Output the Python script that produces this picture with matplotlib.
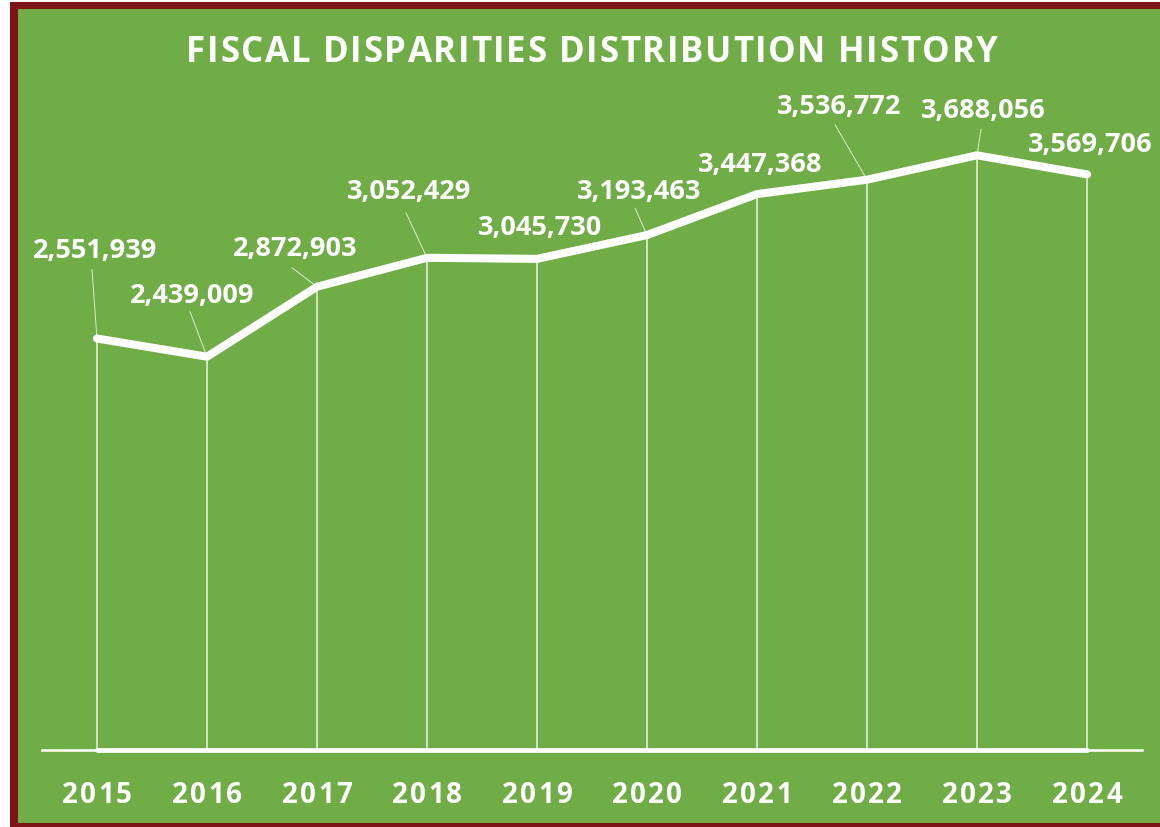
import matplotlib
matplotlib.use("Agg")
import matplotlib.pyplot as plt
from matplotlib.patches import Rectangle
from matplotlib.transforms import IdentityTransform
from matplotlib.font_manager import FontProperties, findfont
from matplotlib.ft2font import FT2Font

# ---- data -------------------------------------------------------------
years = ["2015", "2016", "2017", "2018", "2019",
         "2020", "2021", "2022", "2023", "2024"]
distribution = [2551939, 2439009, 2872903, 3052429, 3045730,
                3193463, 3447368, 3536772, 3688056, 3569706]
title = "FISCAL DISPARITIES DISTRIBUTION HISTORY"

# ---- layout -------------------------------------------------------------
# label baseline offsets from each point, in pixels (dx, dy)
label_offsets = [(-2, 81), (-15, 55), (-22, 32), (-18, 60), (3, 25),
                 (-8, 37), (3, 23), (-28, 67), (6, 38), (3, 23)]
# leader line start offsets from each point, in pixels (None = no leader)
leader_offsets = [(-5, 69), (-17, 45), (-25, 19), (-21, 45), None,
                  (-12, 27), None, (-32, 55), (4, 26), None]

GREEN = "#70AD47"
MAROON = "#7D1418"
WHITE = "white"

W, H, DPI = 1160, 828, 100
fig = plt.figure(figsize=(W / DPI, H / DPI), dpi=DPI, facecolor="white")

# frame: maroon border with green panel (drawn beneath the axes)
fig.patches.append(Rectangle((10 / W, 0), 1, (H - 3) / H,
                             transform=fig.transFigure, facecolor=MAROON,
                             edgecolor="none", zorder=-5))
fig.patches.append(Rectangle((18 / W, 4 / H), 1, (H - 14) / H,
                             transform=fig.transFigure, facecolor=GREEN,
                             edgecolor="none", zorder=-4))

ax = fig.add_axes([42 / W, 77 / H, 1100 / W, 645 / H])
ax.set_facecolor("none")
for s in ax.spines.values():
    s.set_visible(False)
ax.set_xlim(-0.5, len(years) - 0.5)
ax.set_ylim(0, 4_000_000)
ax.set_xticks([])
ax.set_yticks([])

x = list(range(len(years)))

# category axis line and the heavy base line between first and last year
ax.axhline(0, color=WHITE, lw=1.8, zorder=2, clip_on=False)
ax.plot([x[0], x[-1]], [0, 0], color=WHITE, lw=3.4,
        solid_capstyle="round", zorder=3, clip_on=False)

# drop lines from each point to the axis
ax.vlines(x, 0, distribution, colors=WHITE, lw=1.1, alpha=0.85, zorder=2)

# main series
ax.plot(x, distribution, color=WHITE, lw=5.8, solid_capstyle="round",
        solid_joinstyle="round", zorder=4)

# value labels with leader lines
lab_prop = FontProperties(family="Open Sans", weight="bold", size=19.5)
for xi, v, (dx, dy), lead in zip(x, distribution, label_offsets, leader_offsets):
    ax.annotate(f"{v:,}", xy=(xi, v), xytext=(dx, dy),
                textcoords="offset pixels", ha="center", va="baseline",
                color=WHITE, fontproperties=lab_prop, zorder=5)
    if lead is not None:
        ax.annotate("", xy=(xi, v), xytext=lead, textcoords="offset pixels",
                    arrowprops=dict(arrowstyle="-", color=WHITE, lw=0.7,
                                    alpha=0.75, shrinkA=0, shrinkB=2),
                    zorder=3)


def spaced_text(cx, baseline, text, spacing, prop):
    """Draw text centred at cx with extra tracking between characters."""
    font = FT2Font(findfont(prop))
    font.set_size(prop.get_size_in_points(), fig.dpi)
    adv = [font.load_char(ord(c)).linearHoriAdvance / 65536 for c in text]
    total = sum(adv) + spacing * (len(text) - 1)
    pos = cx - total / 2
    for ch, a in zip(text, adv):
        if ch != " ":
            fig.text(pos + a / 2, baseline, ch, transform=IdentityTransform(),
                     ha="center", va="baseline", color=WHITE,
                     fontproperties=prop)
        pos += a + spacing


# title
title_prop = FontProperties(family="Open Sans", weight="bold", size=25)
spaced_text(592, H - 62, title, 1.7, title_prop)

# year labels under the axis
tick_prop = FontProperties(family="Open Sans", weight="bold", size=20)
for xi, yr in zip(x, years):
    px = ax.transData.transform((xi, 0))[0]
    spaced_text(px, H - 803, yr, 2.2, tick_prop)

fig.savefig("out.png", dpi=DPI, facecolor=fig.get_facecolor())
